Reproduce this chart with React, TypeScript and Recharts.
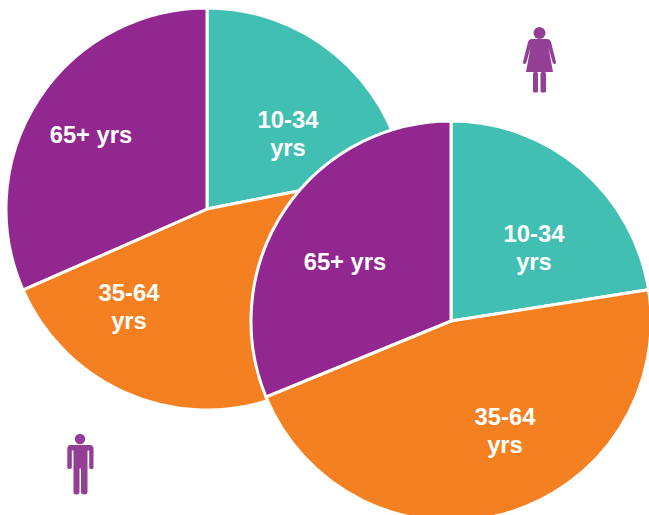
import React from "react";
import { PieChart, Pie, Cell } from "recharts";

const ageGroups = ["10-34 yrs", "35-64 yrs", "65+ yrs"];
const maleShares = [21.9, 46.5, 31.6];
const femaleShares = [22.5, 46.3, 31.2];
const sliceColors = ["#41bfb3", "#f58021", "#92278f"];

// label nudges from the pie centre, the source deck placed them by hand
const maleLabelSpots = [
    [81, -75],
    [-78, 98],
    [-116, -74],
];
const femaleLabelSpots = [
    [83, -73],
    [54, 110],
    [-106, -59],
];

const maleData = ageGroups.map((name, i) => ({ name, value: maleShares[i] }));
const femaleData = ageGroups.map((name, i) => ({ name, value: femaleShares[i] }));

const ICON_COLOR = "#943f96";

function sliceLabel(spots: number[][]) {
    return (props: any) => {
        const { cx, cy, index, name } = props;
        const [dx, dy] = spots[index];
        const parts = index === 2 ? [name] : name.split(" ");
        const firstDy = parts.length > 1 ? -6.5 : 8;
        return (
            <text
                x={cx + dx}
                y={cy + dy}
                fill="#fff"
                textAnchor="middle"
                fontFamily="Liberation Sans"
                fontWeight="bold"
                fontSize={23.8}
            >
                {parts.map((p: string, i: number) => (
                    <tspan key={p} x={cx + dx} dy={i === 0 ? firstDy : 28.5}>
                        {p}
                    </tspan>
                ))}
            </text>
        );
    };
}

function Man() {
    return (
        <g fill={ICON_COLOR}>
            <circle cx={80} cy={439} r={5.2} />
            <path d="M70.5 445 H90 Q93.5 445 93.5 449 V467.5 Q93.5 469 91.5 469 Q89.2 469 89.2 467.5 V450.5 H87.5 V492 Q87.5 494.5 84.5 494.5 Q81 494.5 81 492 V468.5 H79.5 V492 Q79.5 494.5 76.5 494.5 Q73.5 494.5 73.5 492 V450.5 H71.8 V467.5 Q71.8 469 69.5 469 Q67.3 469 67.3 467.5 V449 Q67.3 445 70.5 445 Z" />
        </g>
    );
}

function Woman() {
    return (
        <g fill={ICON_COLOR}>
            <circle cx={539.5} cy={33} r={6} />
            <path d="M532 39 H547 Q550 39 551 42 L556 62 Q556.3 64 554.5 64 Q553 64 552.5 62 L548.5 47.5 L553 72 H526 L530.5 47.5 L526.5 62 Q526 64 524.5 64 Q522.7 64 523 62 L528 42 Q529 39 532 39 Z" />
            <rect x={533} y={72} width={5} height={20.5} rx={1.5} />
            <rect x={540.5} y={72} width={5.5} height={20.5} rx={1.5} />
        </g>
    );
}

export default function App() {
    return (
        <div style={{ position: "absolute", left: 0, top: 0, width: 649, height: 515, overflow: "hidden" }}>
            <PieChart width={649} height={515} margin={{ top: 0, right: 0, bottom: 0, left: 0 }}>
                <Pie
                    data={maleData}
                    dataKey="value"
                    cx={207}
                    cy={209}
                    innerRadius={0}
                    outerRadius={201}
                    startAngle={90}
                    endAngle={-270}
                    stroke="#fff"
                    strokeWidth={3}
                    label={sliceLabel(maleLabelSpots)}
                    labelLine={false}
                    isAnimationActive={false}
                >
                    {maleData.map((d, i) => (
                        <Cell key={d.name} fill={sliceColors[i]} />
                    ))}
                </Pie>
                <Pie
                    data={femaleData}
                    dataKey="value"
                    cx={451}
                    cy={321}
                    innerRadius={0}
                    outerRadius={200}
                    startAngle={90}
                    endAngle={-270}
                    stroke="#fff"
                    strokeWidth={3}
                    label={sliceLabel(femaleLabelSpots)}
                    labelLine={false}
                    isAnimationActive={false}
                >
                    {femaleData.map((d, i) => (
                        <Cell key={d.name} fill={sliceColors[i]} />
                    ))}
                </Pie>
                <Man />
                <Woman />
            </PieChart>
        </div>
    );
}
